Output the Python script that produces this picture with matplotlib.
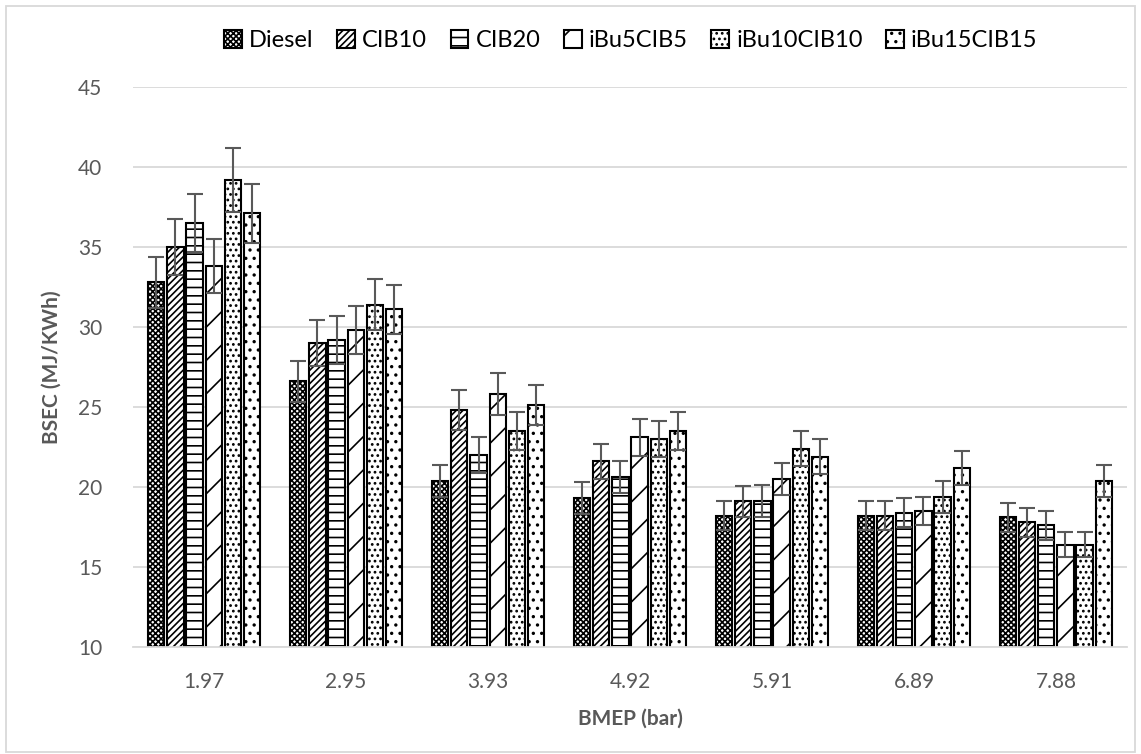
import numpy as np
import matplotlib
matplotlib.use('Agg')
import matplotlib.pyplot as plt
from matplotlib.patches import Rectangle

plt.rcParams['font.family'] = ['Lato', 'DejaVu Sans']
plt.rcParams['hatch.linewidth'] = 1.2

# data
bmep = ['1.97', '2.95', '3.93', '4.92', '5.91', '6.89', '7.88']
series = ['Diesel', 'CIB10', 'CIB20', 'iBu5CIB5', 'iBu10CIB10', 'iBu15CIB15']
diesel = [32.8, 26.6, 20.4, 19.3, 18.2, 18.2, 18.1]
cib10 = [35.0, 29.0, 24.8, 21.6, 19.1, 18.2, 17.8]
cib20 = [36.5, 29.2, 22.0, 20.6, 19.1, 18.4, 17.6]
ibu5cib5 = [33.8, 29.8, 25.8, 23.1, 20.5, 18.5, 16.4]
ibu10cib10 = [39.2, 31.4, 23.5, 23.0, 22.4, 19.4, 16.4]
ibu15cib15 = [37.1, 31.1, 25.1, 23.5, 21.9, 21.2, 20.4]

err_diesel = [1.6, 1.3, 1.0, 1.0, 0.9, 0.9, 0.9]
err_cib10 = [1.75, 1.45, 1.25, 1.1, 0.95, 0.9, 0.9]
err_cib20 = [1.8, 1.5, 1.1, 1.0, 1.0, 0.9, 0.9]
err_ibu5 = [1.7, 1.5, 1.3, 1.15, 1.0, 0.9, 0.8]
err_ibu10 = [2.0, 1.6, 1.2, 1.15, 1.1, 1.0, 0.8]
err_ibu15 = [1.85, 1.55, 1.25, 1.2, 1.1, 1.05, 1.0]

values = [diesel, cib10, cib20, ibu5cib5, ibu10cib10, ibu15cib15]
errors = [err_diesel, err_cib10, err_cib20, err_ibu5, err_ibu10, err_ibu15]
hatches = ['xxxxxx', '/////', '--', '/', '...', '..']

fig = plt.figure(figsize=(11.41, 7.54), dpi=100)
ax = fig.add_axes([0.1166, 0.1419, 0.8711, 0.7427])

x = np.arange(len(bmep))
w = 0.113
pitch = 0.134
for i, (vals, errs, h) in enumerate(zip(values, errors, hatches)):
    pos = x + (i - 2.5) * pitch
    ax.bar(pos, vals, width=w, color='white', edgecolor='black', linewidth=1.5,
           hatch=h, label=series[i], zorder=2)
    ax.errorbar(pos, vals, yerr=errs, fmt='none', ecolor='#595959',
                elinewidth=1.5, capsize=6, capthick=1.5, zorder=3)

ax.set_ylim(10, 45)
ax.set_xlim(-0.5, len(bmep) - 0.5)
ax.set_yticks(range(10, 46, 5))
ax.set_xticks(x)
ax.set_xticklabels(bmep)
ax.yaxis.grid(True, color='#d9d9d9', linewidth=1.3, zorder=0)
ax.set_axisbelow(True)
for s in ['top', 'right', 'left']:
    ax.spines[s].set_visible(False)
ax.spines['bottom'].set_color('#d9d9d9')
ax.spines['bottom'].set_linewidth(1.3)
ax.tick_params(axis='both', length=0, labelsize=15, labelcolor='#595959')
ax.tick_params(axis='x', pad=18)
ax.tick_params(axis='y', pad=22)
ax.set_xlabel('BMEP (bar)', fontsize=15, fontweight='bold', color='#595959', labelpad=12)
ax.set_ylabel('BSEC (MJ/KWh)', fontsize=15, fontweight='bold', color='#595959', labelpad=12)

fig.legend(loc='center', bbox_to_anchor=(0.553, 0.946), ncol=6, frameon=False,
           fontsize=17, handlelength=0.75, handleheight=0.75, handletextpad=0.3,
           columnspacing=1.0)

fig.patches.append(Rectangle((0.005, 0.002), 0.99, 0.99, transform=fig.transFigure,
                             fill=False, edgecolor='#d9d9d9', linewidth=1.3))

fig.savefig('out.png', dpi=100)
